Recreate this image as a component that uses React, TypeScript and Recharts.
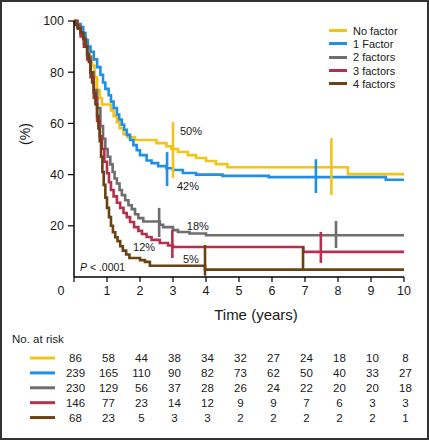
import React from 'react';
import { ComposedChart, ScatterChart, Line, Scatter, XAxis, YAxis, ReferenceLine, Legend } from 'recharts';

const years = [0, 1, 2, 3, 4, 5, 6, 7, 8, 9, 10];
const yTicks = [20, 40, 60, 80, 100];
const groups = ['No factor', '1 Factor', '2 factors', '3 factors', '4 factors'];
const colors = ['#f2c417', '#1f8fe8', '#6e6e6e', '#b5304e', '#6b4212'];

// survival curves, [years, %]
const noFactor = [
  [0, 100], [0.08, 98.8], [0.16, 97.6], [0.24, 95.3], [0.32, 93], [0.4, 89.5], [0.48, 86], [0.55, 82.5],
  [0.62, 78], [0.7, 73], [0.78, 69.8], [0.85, 67.4], [1.12, 65.1], [1.2, 62.8], [1.3, 60.5], [1.38, 58.1],
  [1.5, 55.8], [1.62, 54.6], [1.85, 53.5], [2.5, 52.3], [2.8, 51.1], [2.95, 50], [3.15, 48.8], [3.45, 47.6],
  [3.7, 46.5], [4.0, 45.3], [4.3, 44.1], [4.65, 42.9], [8.3, 40.2], [10, 40.2],
];
const oneFactor = [
  [0, 100], [0.1, 98.8], [0.2, 97.6], [0.28, 95.3], [0.35, 92.5], [0.42, 90], [0.5, 88], [0.6, 85], [0.7, 82],
  [0.8, 79], [0.88, 76], [0.95, 73.5], [1.05, 71], [1.12, 68.5], [1.2, 66], [1.3, 63.5], [1.37, 61.5],
  [1.45, 59.5], [1.52, 57.5], [1.6, 55.5], [1.7, 53.5], [1.8, 51.5], [1.9, 49.5], [2.0, 47.6], [2.2, 45.5],
  [2.35, 44.5], [2.55, 43.3], [2.8, 42.5], [3.0, 41.8], [3.3, 40.6], [3.7, 40], [4.5, 39.5], [5.9, 39],
  [9.45, 38], [10, 38],
];
const twoFactors = [
  [0, 100], [0.1, 98], [0.2, 95], [0.3, 91], [0.4, 86], [0.5, 80], [0.6, 73], [0.7, 66], [0.8, 59],
  [0.88, 54], [0.95, 50], [1.02, 47], [1.1, 44], [1.17, 41], [1.23, 38.5], [1.3, 36.5], [1.38, 34],
  [1.45, 32], [1.55, 30], [1.65, 28], [1.75, 26.5], [1.85, 24.5], [1.95, 23], [2.1, 21.7], [2.6, 20.4],
  [2.7, 19.5], [3.0, 18.3], [3.15, 17.6], [3.5, 17], [4.0, 16.3], [10, 16.3],
];
const threeFactors = [
  [0, 100], [0.1, 97.5], [0.2, 94], [0.3, 90], [0.4, 85], [0.5, 78], [0.6, 70], [0.7, 61], [0.78, 55],
  [0.85, 50], [0.92, 45], [1.0, 40.5], [1.06, 37], [1.12, 34], [1.2, 31.5], [1.3, 29], [1.4, 27], [1.5, 25],
  [1.6, 23.4], [1.7, 21.5], [1.82, 19.5], [1.95, 18], [2.06, 16.8], [2.2, 15.6], [2.35, 14.5], [2.6, 13.3],
  [2.85, 12.3], [3.0, 11.7], [6.95, 9.8], [10, 9.8],
];
const fourFactors = [
  [0, 100], [0.05, 98.5], [0.12, 97], [0.2, 95.5], [0.28, 93], [0.35, 90], [0.4, 87], [0.45, 84], [0.5, 80],
  [0.55, 76], [0.6, 72], [0.65, 67.5], [0.7, 63], [0.74, 58], [0.78, 53], [0.82, 47], [0.86, 41], [0.9, 36],
  [0.95, 31], [1.0, 27], [1.06, 23.4], [1.12, 20], [1.18, 17.5], [1.25, 15.5], [1.32, 14], [1.4, 12],
  [1.48, 10.3], [1.58, 8.8], [1.68, 7.4], [2.0, 6.6], [2.15, 5.9], [2.3, 4.4], [3.97, 2.9], [10, 2.9],
];

// vertical marks on each curve: [years, top %, bottom %]
const marksNoFactor = [[3.0, 60.5, 38.7], [7.8, 54.3, 32]];
const marksOneFactor = [[2.82, 48.8, 35.5], [7.33, 46, 32.8]];
const marksTwoFactors = [[2.58, 27, 15.6], [7.94, 21.9, 11.3]];
const marksThreeFactors = [[2.98, 18.4, 7.4], [7.48, 17.6, 5.5]];
const marksFourFactors = [[3.97, 12.5, 0.5], [6.94, 11.7, 2.7]];

const notes = [
  { t: 3.21, s: 57, text: '50%' },
  { t: 3.12, s: 35.5, text: '42%' },
  { t: 3.42, s: 19.9, text: '18%' },
  { t: 1.79, s: 11.7, text: '12%' },
  { t: 3.3, s: 7, text: '5%' },
];

// number at risk per year
const riskNoFactor = [86, 58, 44, 38, 34, 32, 27, 24, 18, 10, 8];
const riskOneFactor = [239, 165, 110, 90, 82, 73, 62, 50, 40, 33, 27];
const riskTwoFactors = [230, 129, 56, 37, 28, 26, 24, 22, 20, 20, 18];
const riskThreeFactors = [146, 77, 23, 14, 12, 9, 9, 7, 6, 3, 3];
const riskFourFactors = [68, 23, 5, 3, 3, 2, 2, 2, 2, 2, 1];

const curves = [noFactor, oneFactor, twoFactors, threeFactors, fourFactors];
const marks = [marksNoFactor, marksOneFactor, marksTwoFactors, marksThreeFactors, marksFourFactors];
const risks = [riskNoFactor, riskOneFactor, riskTwoFactors, riskThreeFactors, riskFourFactors];

const font = '"Liberation Sans", Arial, sans-serif';
const ink = '#1a1a1a';

const XTick = ({ x, y, payload }: any) => (
  <text x={payload.value === 0 ? x - 13 : x} y={y} dy="0.8em" textAnchor="middle" fontSize={12.5} fill={ink} fontFamily={font}>
    {payload.value}
  </text>
);

const NoteShape = ({ cx, cy, payload }: any) => (
  <text x={cx} y={cy} dy="0.35em" fontSize={11} fill={ink} stroke="none" style={{ fill: ink }} fontFamily={font}>
    {payload.text}
  </text>
);

const LegendBox = () => (
  <div style={{ fontFamily: font, fontSize: 11, color: ink }}>
    {groups.map((g, i) => (
      <div key={g} style={{ display: 'flex', alignItems: 'center', height: 13.3 }}>
        <span style={{ display: 'inline-block', width: 18, height: 3, background: colors[i], marginRight: 6 }} />
        {g}
      </div>
    ))}
  </div>
);

export default function App() {
  return (
    <div style={{ position: 'absolute', left: 0, top: 0, width: 429, height: 440, background: '#fff', fontFamily: font }}>
      <ComposedChart width={429} height={330} margin={{ top: 21, right: 25, left: 0, bottom: 0 }}>
        <XAxis
          type="number"
          dataKey="t"
          domain={[0, 10]}
          ticks={years}
          interval={0}
          height={53}
          tickSize={5}
          tickMargin={3}
          tick={<XTick />}
          axisLine={{ stroke: '#000', strokeWidth: 1.5 }}
          tickLine={{ stroke: '#000', strokeWidth: 1.2 }}
          label={{
            content: ({ viewBox }: any) => (
              <text x={viewBox.x + viewBox.width / 2 + 17} y={315} dy="0.35em" textAnchor="middle" fontSize={15} fill={ink} fontFamily={font}>
                Time (years)
              </text>
            ),
          }}
        />
        <YAxis
          type="number"
          dataKey="s"
          domain={[0, 100]}
          ticks={yTicks}
          interval={0}
          width={74}
          tickSize={6}
          tickMargin={4}
          tick={{ fontSize: 12.5, fill: ink, fontFamily: font }}
          axisLine={{ stroke: '#000', strokeWidth: 1.5 }}
          tickLine={{ stroke: '#000', strokeWidth: 1.2 }}
          label={{
            content: () => (
              <text transform="translate(25,134) rotate(-90)" dy="0.35em" textAnchor="middle" fontSize={14} fill={ink} fontFamily={font}>
                (%)
              </text>
            ),
          }}
        />
        <Legend
          layout="vertical"
          align="center"
          verticalAlign="middle"
          wrapperStyle={{ top: 24, left: 329, width: 96 }}
          content={<LegendBox />}
        />
        {curves.map((c, i) => (
          <Line
            key={groups[i]}
            name={groups[i]}
            data={c.map(([t, s]) => ({ t, s }))}
            dataKey="s"
            type="stepAfter"
            stroke={colors[i]}
            strokeWidth={2.6}
            dot={false}
            isAnimationActive={false}
          />
        ))}
        {marks.map((m, i) =>
          m.map(([t, hi, lo]) => (
            <ReferenceLine
              key={`${i}-${t}`}
              segment={[{ x: t, y: hi }, { x: t, y: lo }]}
              stroke={colors[i]}
              strokeWidth={2.6}
            />
          ))
        )}
        <Scatter data={notes} dataKey="s" fill={ink} shape={<NoteShape />} isAnimationActive={false} legendType="none" />
        <Scatter
          data={[{ t: 0.18, s: 3.9 }]}
          dataKey="s"
          fill={ink}
          isAnimationActive={false}
          legendType="none"
          shape={({ cx, cy }: any) => (
            <text x={cx} y={cy} dy="0.35em" fontSize={10.5} fill={ink} fontFamily={font}>
              <tspan fontStyle="italic">P</tspan> {'< .0001'}
            </text>
          )}
        />
      </ComposedChart>

      <div style={{ position: 'absolute', left: 12, top: 333, fontSize: 11.5, color: ink }}>No. at risk</div>

      <div style={{ position: 'absolute', left: 0, top: 330 }}>
        <ScatterChart width={429} height={110} margin={{ top: 20.6, right: 25, left: 0, bottom: 15 }}>
          <XAxis type="number" dataKey="t" domain={[0, 10]} hide />
          <YAxis
            type="number"
            dataKey="row"
            domain={[0.5, 5.5]}
            ticks={[1, 2, 3, 4, 5]}
            interval={0}
            reversed
            width={74}
            axisLine={false}
            tickLine={false}
            tick={({ y, payload }: any) => (
              <line x1={30} x2={55} y1={y} y2={y} stroke={colors[payload.value - 1]} strokeWidth={3} />
            )}
          />
          {risks.map((r, i) => (
            <Scatter
              key={groups[i]}
              data={r.map((n, k) => ({ t: years[k], row: i + 1, n }))}
              fill={ink}
              isAnimationActive={false}
              shape={({ cx, cy, payload }: any) => (
                <text x={cx + 1.5} y={cy} dy="0.35em" textAnchor="middle" fontSize={11.5} fill={ink} fontFamily={font}>
                  {payload.n}
                </text>
              )}
            />
          ))}
        </ScatterChart>
      </div>

      <div style={{ position: 'absolute', left: 0, top: 0, width: 429, height: 440, boxSizing: 'border-box', border: '2px solid #333', pointerEvents: 'none' }} />
    </div>
  );
}
